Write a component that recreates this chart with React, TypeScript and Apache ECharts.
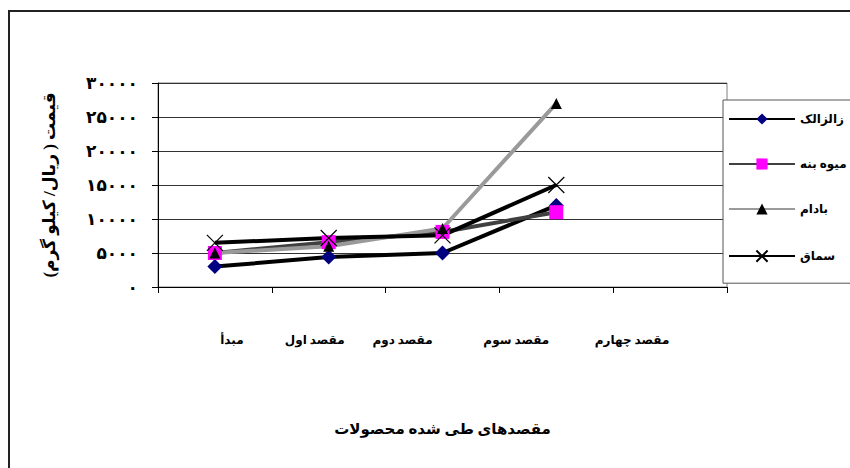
import React, { useEffect, useRef } from "react";
import * as echarts from "echarts";

const categories = ["مبدأ", "مقصد اول", "مقصد دوم", "مقصد سوم", "مقصد چهارم"];
const seriesNames = ["زالزالک", "میوه بنه", "بادام", "سماق"];
const zalzalak = [3000, 4400, 5000, 12000];
const mivehBaneh = [5000, 6600, 8100, 11000];
const badam = [5000, 6000, 8600, 27000];
const somagh = [6500, 7200, 7600, 15000];
const yTicks = { min: 0, max: 30000, interval: 5000 };

// horizontal nudges of the category labels (px), layout only
const labelShift = [17, -14, -40, -40, -38];

const FONT = "'Times New Roman', 'Liberation Serif', 'DejaVu Sans', serif";
const toFa = (v: number | string) =>
  String(v).replace(/\d/g, (d) => "۰۱۲۳۴۵۶۷۸۹"[Number(d)]);

export default function App() {
  const ref = useRef<HTMLDivElement>(null);
  useEffect(() => {
    if (!ref.current) return;
    const chart = echarts.init(ref.current, undefined, { renderer: "svg" });
    const xSym = "path://M0,0L10,10M10,0L0,10";
    const catData = categories.map((c, i) => {
      const s = labelShift[i];
      return {
        value: c,
        textStyle: { padding: s >= 0 ? [0, 0, 0, 2 * s] : [0, -2 * s, 0, 0] },
      };
    });
    chart.setOption({
      animation: false,
      backgroundColor: "#fff",
      textStyle: { fontFamily: FONT },
      graphic: [
        {
          type: "rect",
          shape: { x: 9, y: 11, width: 900, height: 500 },
          style: { fill: "none", stroke: "#222", lineWidth: 2 },
          z: 100,
        },
      ],
      grid: {
        left: 158,
        top: 83,
        width: 569,
        height: 204,
        show: true,
        borderColor: "#808080",
        borderWidth: 1,
        containLabel: false,
      },
      legend: {
        orient: "vertical",
        left: 723,
        top: 100,
        padding: [13, 80, 19, 5],
        itemWidth: 66,
        itemHeight: 14,
        itemGap: 33,
        backgroundColor: "#fff",
        borderColor: "#555",
        borderWidth: 1,
        textStyle: { fontFamily: FONT, fontWeight: "bold", fontSize: 12, color: "#000" },
        data: seriesNames,
      },
      xAxis: {
        type: "category",
        data: catData,
        boundaryGap: true,
        axisLine: { lineStyle: { color: "#000", width: 1 } },
        axisTick: { show: true, alignWithLabel: false, length: 6, lineStyle: { color: "#000" } },
        axisLabel: {
          interval: 0,
          margin: 47,
          color: "#000",
          fontWeight: "bold",
          fontSize: 12,
          fontFamily: FONT,
        },
        name: "مقصدهای طی شده محصولات",
        nameLocation: "middle",
        nameGap: 134,
        nameTextStyle: { color: "#000", fontWeight: "bold", fontSize: 15, fontFamily: FONT },
      },
      yAxis: {
        type: "value",
        min: yTicks.min,
        max: yTicks.max,
        interval: yTicks.interval,
        axisLine: { show: true, lineStyle: { color: "#000", width: 1 } },
        axisTick: { show: true, length: 6, lineStyle: { color: "#000" } },
        splitLine: { show: true, lineStyle: { color: "#333", width: 1 } },
        axisLabel: {
          margin: 20,
          color: "#000",
          fontWeight: "bold",
          fontSize: 17,
          fontFamily: FONT,
          formatter: (v: number) => toFa(v),
        },
        name: "قیمت ( ریال/ کیلو گرم)",
        nameLocation: "middle",
        nameGap: 100,
        nameTextStyle: { color: "#000", fontWeight: "bold", fontSize: 17, fontFamily: FONT },
      },
      series: [
        {
          name: seriesNames[0],
          type: "line",
          data: zalzalak,
          symbol: "diamond",
          symbolSize: 15,
          itemStyle: { color: "#000080" },
          lineStyle: { color: "#000", width: 4 },
        },
        {
          name: seriesNames[1],
          type: "line",
          data: mivehBaneh,
          symbol: "rect",
          symbolSize: 14,
          itemStyle: { color: "#ff00ff" },
          lineStyle: { color: "#404040", width: 4 },
        },
        {
          name: seriesNames[2],
          type: "line",
          data: badam,
          symbol: "triangle",
          symbolSize: 11,
          itemStyle: { color: "#000" },
          lineStyle: { color: "#9a9a9a", width: 4 },
        },
        {
          name: seriesNames[3],
          type: "line",
          data: somagh,
          symbol: xSym,
          symbolSize: 16,
          itemStyle: { color: "none", borderColor: "#000", borderWidth: 1.2 },
          lineStyle: { color: "#000", width: 4 },
        },
      ],
    });
    return () => chart.dispose();
  }, []);
  return (
    <div
      ref={ref}
      style={{ position: "absolute", left: 0, top: 0, width: 850, height: 468 }}
    />
  );
}
